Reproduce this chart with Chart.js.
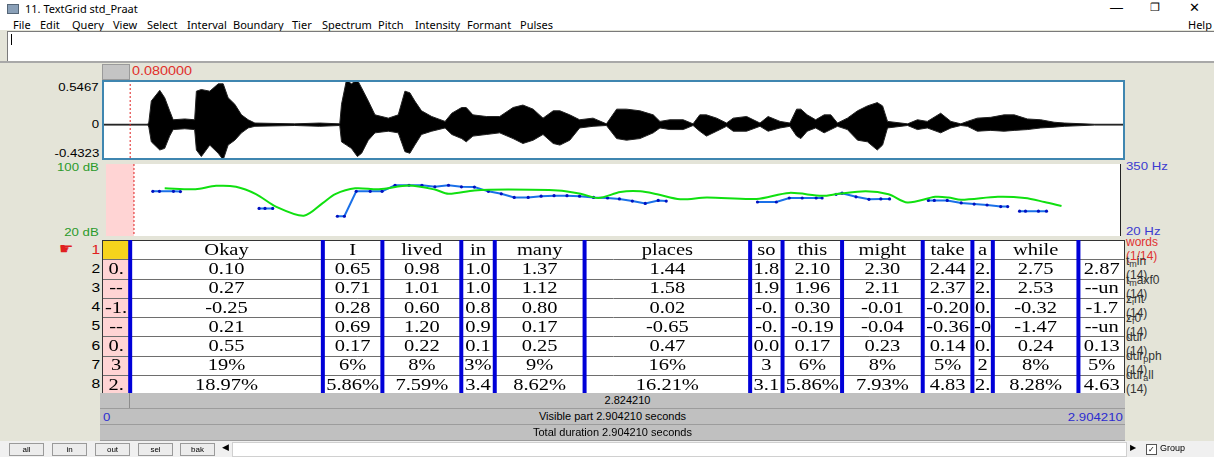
<!DOCTYPE html>
<html>
<head>
<meta charset="utf-8">
<script src="https://cdn.jsdelivr.net/npm/chart.js@4.4.0/dist/chart.umd.min.js"></script>
<style>
body{margin:0;width:1214px;height:457px;background:#e4e4d8;position:relative;overflow:hidden;font-family:"Liberation Sans",Arial,sans-serif;color:#000;}
.a{position:absolute;white-space:nowrap;}
.l{position:absolute;white-space:nowrap;font-size:11px;line-height:12px;transform:scaleX(1.2);transform-origin:left center;}
.r{position:absolute;white-space:nowrap;font-size:11px;line-height:12px;transform:scaleX(1.2);transform-origin:right center;text-align:right;}
.c{position:absolute;white-space:nowrap;font-size:11px;line-height:15px;text-align:center;}
.menu span{position:absolute;top:18px;font-size:11px;line-height:13px;font-family:"Noto Sans",sans-serif;}
.btn{position:absolute;top:443px;width:33px;height:11px;border:1px solid #9a9a9a;background:#ececec;font-size:8px;line-height:11px;text-align:center;}
.tn{position:absolute;left:1126px;font-size:12px;line-height:12px;white-space:nowrap;color:#333;}
.tn sub{font-size:9px;vertical-align:-2px;}
canvas{position:absolute;}
</style>
</head>
<body>
<!-- window chrome -->
<div class="a" style="left:0;top:0;width:1214px;height:30px;background:#fff;"></div>
<div class="a" style="left:7px;top:4px;width:10px;height:8px;background:#8aa0b8;border:1px solid #567;"></div>
<div class="a" style="left:25px;top:2px;font-size:11px;line-height:13px;font-family:'Noto Sans',sans-serif;">11. TextGrid std_Praat</div>
<div class="a" style="left:1110px;top:0px;font-size:13px;">&#8212;</div>
<div class="a" style="left:1150px;top:1px;font-size:11px;">&#10064;</div>
<div class="a" style="left:1189px;top:0px;font-size:13px;">&#10005;</div>
<div class="menu">
<span style="left:13px">File</span><span style="left:40px">Edit</span><span style="left:72px">Query</span><span style="left:113px">View</span>
<span style="left:147px">Select</span><span style="left:187px">Interval</span><span style="left:233px">Boundary</span><span style="left:292px">Tier</span>
<span style="left:322px">Spectrum</span><span style="left:378px">Pitch</span><span style="left:415px">Intensity</span><span style="left:467px">Formant</span>
<span style="left:520px">Pulses</span><span style="left:1188px">Help</span>
</div>
<div class="a" style="left:7px;top:31px;width:1207px;height:29px;background:#fff;border-left:1px solid #7a7a7a;border-top:1px solid #7a7a7a;"></div>
<div class="a" style="left:11px;top:34px;width:1px;height:11px;background:#000;"></div>
<div class="a" style="left:0;top:61px;width:1214px;height:2px;background:#a8a8a8;"></div>
<div class="a" style="left:102px;top:64px;width:26px;height:14px;background:#c4c4c4;border:1px solid #9a9a9a;"></div>
<div class="l" style="left:132px;top:65px;color:#e0302a;font-size:12px;line-height:13px;">0.080000</div>

<!-- axis labels -->
<div class="r" style="right:1115px;top:81px;">0.5467</div>
<div class="r" style="right:1115px;top:118px;">0</div>
<div class="r" style="right:1115px;top:147px;">-0.4323</div>
<div class="r" style="right:1115px;top:161px;color:#2a9a2a;">100 dB</div>
<div class="r" style="right:1115px;top:226px;color:#2a9a2a;">20 dB</div>
<div class="l" style="left:1126px;top:160px;color:#3a3ad0;">350 Hz</div>
<div class="l" style="left:1126px;top:225px;color:#3a3ad0;">20 Hz</div>

<!-- tier numbers -->
<div class="a" style="left:59px;top:240px;font-size:16px;line-height:18px;color:#e02020;font-family:'DejaVu Sans',sans-serif;">&#9755;</div>
<div class="r" style="right:1114px;top:243px;font-size:13px;line-height:14px;color:#e02020;">1</div>
<div class="r" style="right:1114px;top:262px;font-size:13px;line-height:14px;">2</div>
<div class="r" style="right:1114px;top:281px;font-size:13px;line-height:14px;">3</div>
<div class="r" style="right:1114px;top:300px;font-size:13px;line-height:14px;">4</div>
<div class="r" style="right:1114px;top:319px;font-size:13px;line-height:14px;">5</div>
<div class="r" style="right:1114px;top:339px;font-size:13px;line-height:14px;">6</div>
<div class="r" style="right:1114px;top:358px;font-size:13px;line-height:14px;">7</div>
<div class="r" style="right:1114px;top:377px;font-size:13px;line-height:14px;">8</div>

<!-- tier names -->
<div class="tn" style="top:236px;color:#e03030;">words</div>
<div class="tn" style="top:250px;color:#e03030;">(1/14)</div>
<div class="tn" style="top:255px;">t<sub>m</sub>in</div>
<div class="tn" style="top:269px;">(14)</div>
<div class="tn" style="top:274px;">t<sub>m</sub>axf0</div>
<div class="tn" style="top:288px;">(14)</div>
<div class="tn" style="top:293px;">z<sub>i</sub>nt</div>
<div class="tn" style="top:307px;">(14)</div>
<div class="tn" style="top:312px;">z<sub>f</sub>0</div>
<div class="tn" style="top:326px;">(14)</div>
<div class="tn" style="top:331px;">dur</div>
<div class="tn" style="top:345px;">(14)</div>
<div class="tn" style="top:350px;">dur<sub>p</sub>ph</div>
<div class="tn" style="top:364px;">(14)</div>
<div class="tn" style="top:369px;">dur<sub>a</sub>ll</div>
<div class="tn" style="top:383px;">(14)</div>

<canvas id="wave" width="1023" height="80" style="left:102px;top:80px;"></canvas>
<canvas id="pitch" width="1023" height="80" style="left:102px;top:160px;"></canvas>
<canvas id="grid" width="1023" height="154" style="left:102px;top:240px;"></canvas>

<!-- bottom bars -->
<div class="a" style="left:100px;top:393px;width:1025px;height:15px;background:#c0c0c0;border-bottom:1px solid #9c9c9c;"></div>
<div class="a" style="left:129px;top:393px;width:1px;height:15px;background:#8c8c8c;"></div>
<div class="c" style="left:130px;top:393px;width:995px;">2.824210</div>
<div class="a" style="left:100px;top:409px;width:1025px;height:15px;background:#c0c0c0;border-bottom:1px solid #9c9c9c;"></div>
<div class="c" style="left:100px;top:409px;width:1025px;">Visible part 2.904210 seconds</div>
<div class="l" style="left:103px;top:411px;color:#2c2cd0;">0</div>
<div class="r" style="right:91px;top:411px;color:#2c2cd0;">2.904210</div>
<div class="a" style="left:100px;top:425px;width:1025px;height:15px;background:#c0c0c0;border-bottom:1px solid #9c9c9c;"></div>
<div class="c" style="left:100px;top:425px;width:1025px;">Total duration 2.904210 seconds</div>

<!-- bottom toolbar -->
<div class="a" style="left:0;top:441px;width:1214px;height:16px;background:#f0f0f0;"></div>
<div class="btn" style="left:9px">all</div>
<div class="btn" style="left:52px">in</div>
<div class="btn" style="left:95px">out</div>
<div class="btn" style="left:138px">sel</div>
<div class="btn" style="left:180px">bak</div>
<div class="a" style="left:222px;top:442px;font-size:9px;">&#9664;</div>
<div class="a" style="left:232px;top:442px;width:893px;height:13px;background:#fff;border:1px solid #d0d0d0;"></div>
<div class="a" style="left:1130px;top:443px;font-size:8px;">&#9654;</div>
<div class="a" style="left:1146px;top:444px;width:9px;height:9px;border:1px solid #555;background:#fff;font-size:8px;line-height:9px;text-align:center;">&#10003;</div>
<div class="a" style="left:1160px;top:443px;font-size:9px;line-height:11px;">Group</div>

<script>
// time axis
const totalDur = 2.90421;
const cursorTime = 0.08;

// waveform envelope (seconds, upper and lower amplitude)
const waveTimes = [0.000, 0.130, 0.133, 0.140, 0.164, 0.178, 0.192, 0.202, 0.235, 0.263,
  0.268, 0.282, 0.306, 0.330, 0.344, 0.358, 0.377, 0.396, 0.415, 0.434,
  0.547, 0.618, 0.675, 0.680, 0.694, 0.708, 0.725, 0.737, 0.756, 0.775,
  0.813, 0.841, 0.860, 0.874, 0.888, 0.907, 0.936, 0.974, 0.993, 1.021,
  1.034, 1.053, 1.091, 1.129, 1.167, 1.195, 1.224, 1.252, 1.281, 1.300,
  1.328, 1.356, 1.394, 1.432, 1.461, 1.489, 1.527, 1.565, 1.584, 1.612,
  1.650, 1.678, 1.697, 1.716, 1.745, 1.773, 1.792, 1.830, 1.868, 1.891,
  1.925, 1.953, 1.972, 1.984, 2.002, 2.026, 2.050, 2.069, 2.088, 2.116,
  2.145, 2.173, 2.201, 2.216, 2.230, 2.287, 2.315, 2.343, 2.381, 2.410,
  2.438, 2.457, 2.485, 2.523, 2.561, 2.590, 2.627, 2.665, 2.703, 2.732,
  2.817, 2.904];
const waveTop = [0.005, 0.005, 0.03, 0.29, 0.42, 0.33, 0.17, 0.06, 0.07, 0.06,
  0.41, 0.43, 0.41, 0.50, 0.50, 0.33, 0.25, 0.12, 0.06, 0.02,
  0.01, 0.02, 0.01, 0.25, 0.546, 0.50, 0.546, 0.45, 0.29, 0.12,
  0.08, 0.12, 0.41, 0.39, 0.29, 0.17, 0.10, 0.04, 0.14, 0.21,
  0.21, 0.12, 0.10, 0.10, 0.21, 0.24, 0.19, 0.08, 0.17, 0.17,
  0.12, 0.06, 0.08, 0.01, 0.19, 0.19, 0.17, 0.12, 0.04, 0.06,
  0.06, 0.01, 0.12, 0.12, 0.08, 0.02, 0.08, 0.10, 0.02, 0.10,
  0.04, 0.02, 0.19, 0.19, 0.12, 0.06, 0.12, 0.12, 0.02, 0.08,
  0.17, 0.23, 0.27, 0.23, 0.04, 0.01, 0.06, 0.04, 0.14, 0.04,
  0.01, 0.04, 0.08, 0.09, 0.12, 0.12, 0.07, 0.06, 0.03, 0.02,
  0.005, 0.005];
const waveBottom = [-0.005, -0.005, -0.03, -0.21, -0.31, -0.29, -0.14, -0.06, -0.05, -0.06,
  -0.31, -0.39, -0.25, -0.35, -0.43, -0.25, -0.19, -0.10, -0.04, -0.02,
  -0.01, -0.02, -0.01, -0.21, -0.25, -0.29, -0.39, -0.35, -0.19, -0.10,
  -0.08, -0.10, -0.33, -0.35, -0.25, -0.12, -0.08, -0.04, -0.12, -0.17,
  -0.21, -0.14, -0.12, -0.10, -0.17, -0.23, -0.19, -0.12, -0.23, -0.25,
  -0.19, -0.04, -0.02, -0.01, -0.17, -0.19, -0.17, -0.10, -0.04, -0.06,
  -0.06, -0.01, -0.08, -0.14, -0.08, -0.02, -0.08, -0.08, -0.02, -0.08,
  -0.04, -0.02, -0.14, -0.17, -0.08, -0.04, -0.10, -0.06, -0.02, -0.06,
  -0.19, -0.21, -0.31, -0.25, -0.04, -0.01, -0.06, -0.04, -0.10, -0.04,
  -0.01, -0.02, -0.08, -0.07, -0.08, -0.07, -0.06, -0.04, -0.03, -0.02,
  -0.005, -0.005];

// intensity contour (dB)
const intTimes = [0.168, 0.256, 0.315, 0.372, 0.429, 0.486, 0.566, 0.620, 0.656, 0.713,
  0.781, 0.867, 0.941, 0.980, 1.054, 1.151, 1.293, 1.358, 1.409, 1.472,
  1.529, 1.577, 1.643, 1.719, 1.861, 1.955, 2.049, 2.097, 2.174, 2.239,
  2.293, 2.373, 2.410, 2.447, 2.552, 2.629, 2.685, 2.734];
const intDb = [73.0, 71.9, 75.7, 74.7, 66.6, 52.7, 42.6, 56.5, 66.6, 73.0,
  71.9, 76.0, 71.6, 66.9, 70.6, 71.6, 70.6, 66.9, 62.2, 68.9,
  69.6, 66.3, 60.8, 62.8, 61.2, 67.9, 64.6, 66.9, 69.6, 66.3,
  57.2, 63.5, 62.8, 60.2, 63.5, 62.2, 57.8, 53.4];

// pitch contour (Hz), null = unvoiced gap
const pitchTimes = [0.134, 0.153, 0.193, 0.213, 0.30,
  0.438, 0.455, 0.477, 0.55,
  0.662, 0.682, 0.716, 0.756, 0.790, 0.827, 0.867, 0.904, 0.941, 0.980,
  1.017, 1.054, 1.094, 1.131, 1.168, 1.208, 1.245, 1.282, 1.319, 1.355,
  1.395, 1.435, 1.469, 1.506, 1.543, 1.580, 1.603, 1.70,
  1.864, 1.918, 1.955, 1.992, 2.032, 2.049, 2.07,
  2.089, 2.106, 2.146, 2.183, 2.217, 2.242, 2.30,
  2.353, 2.370, 2.407, 2.447, 2.484, 2.521, 2.560, 2.580, 2.60,
  2.614, 2.631, 2.668, 2.691];
const pitchHz = [224.7, 224.7, 224.7, 223.4, null,
  146.6, 146.6, 146.6, null,
  110.6, 110.6, 224.7, 224.7, 224.7, 252.7, 252.7, 252.7, 245.6, 252.7,
  245.6, 244.3, 224.7, 213.4, 196.7, 196.7, 202.5, 205.0, 205.0, 202.5,
  196.7, 194.2, 190.0, 180.0, 169.1, 182.9, 180.0, null,
  175.8, 175.8, 194.2, 194.2, 194.2, 194.2, null,
  210.9, 216.3, 199.6, 188.3, 190.0, 190.0, null,
  182.9, 182.9, 182.9, 171.6, 166.2, 162.0, 154.9, 154.9, null,
  134.0, 134.0, 134.0, 134.0];

// TextGrid: interval boundaries (s) and the text shown in each cell
const tierBounds = [0, 0.08, 0.627, 0.796, 1.020, 1.115, 1.370, 1.840, 1.932, 2.101, 2.330, 2.471, 2.529, 2.772, 2.90421];
const tierNums = ['1', '2', '3', '4', '5', '6', '7', '8'];
const words  = ['', 'Okay', 'I', 'lived', 'in', 'many', 'places', 'so', 'this', 'might', 'take', 'a', 'while', ''];
const tmin   = ['0.', '0.10', '0.65', '0.98', '1.0', '1.37', '1.44', '1.8', '2.10', '2.30', '2.44', '2.', '2.75', '2.87'];
const tmaxf0 = ['--', '0.27', '0.71', '1.01', '1.0', '1.12', '1.58', '1.9', '1.96', '2.11', '2.37', '2.', '2.53', '--un'];
const zInt   = ['-1.', '-0.25', '0.28', '0.60', '0.8', '0.80', '0.02', '-0.', '0.30', '-0.01', '-0.20', '0.', '-0.32', '-1.7'];
const zF0    = ['--', '0.21', '0.69', '1.20', '0.9', '0.17', '-0.65', '-0.', '-0.19', '-0.04', '-0.36', '-0', '-1.47', '--un'];
const dur    = ['0.', '0.55', '0.17', '0.22', '0.1', '0.25', '0.47', '0.0', '0.17', '0.23', '0.14', '0.', '0.24', '0.13'];
const durPh  = ['3', '19%', '6%', '8%', '3%', '9%', '16%', '3', '6%', '8%', '5%', '2', '8%', '5%'];
const durAll = ['2.', '18.97%', '5.86%', '7.59%', '3.4', '8.62%', '16.21%', '3.1', '5.86%', '7.93%', '4.83', '2.', '8.28%', '4.63'];
const tierTexts = [words, tmin, tmaxf0, zInt, zF0, dur, durPh, durAll];

const baseOpts = {
  responsive: false, animation: false, devicePixelRatio: 1, events: [],
  layout: { padding: 0 },
  plugins: { legend: { display: false }, tooltip: { enabled: false } }
};

function cursorLine(chart) {
  const ctx = chart.ctx, x = chart.scales.x.getPixelForValue(cursorTime);
  ctx.save();
  ctx.strokeStyle = '#e02020'; ctx.lineWidth = 1; ctx.setLineDash([2, 2]);
  ctx.beginPath(); ctx.moveTo(x, chart.chartArea.top); ctx.lineTo(x, chart.chartArea.bottom); ctx.stroke();
  ctx.restore();
}

new Chart(document.getElementById('wave'), {
  type: 'line',
  data: {
    datasets: [
      { data: waveTimes.map((t, i) => ({ x: t, y: waveTop[i] })), borderColor: '#222', borderWidth: 1, pointRadius: 0, tension: 0, fill: false },
      { data: waveTimes.map((t, i) => ({ x: t, y: waveBottom[i] })), borderColor: '#222', borderWidth: 1, pointRadius: 0, tension: 0, fill: '-1', backgroundColor: '#000' }
    ]
  },
  options: {
    ...baseOpts,
    scales: {
      x: { type: 'linear', min: 0, max: totalDur, display: false },
      y: { min: -0.4323, max: 0.5467, display: false }
    }
  },
  plugins: [{
    id: 'waveFrame',
    beforeDraw(chart) {
      const { ctx, chartArea: a } = chart;
      ctx.fillStyle = '#fff'; ctx.fillRect(a.left, a.top, a.width, a.height);
    },
    afterDraw(chart) {
      const { ctx, chartArea: a } = chart;
      cursorLine(chart);
      ctx.save();
      ctx.strokeStyle = '#3f86b0'; ctx.lineWidth = 2;
      ctx.strokeRect(a.left + 1, a.top + 1, a.width - 2, a.height - 2);
      ctx.restore();
    }
  }]
});

new Chart(document.getElementById('pitch'), {
  type: 'line',
  data: {
    datasets: [
      { data: intTimes.map((t, i) => ({ x: t, y: intDb[i] })), yAxisID: 'db', borderColor: '#10e010', borderWidth: 2, pointRadius: 0, tension: 0.3 },
      { data: pitchTimes.map((t, i) => ({ x: t, y: pitchHz[i] })), yAxisID: 'hz', borderColor: '#1a70e8', borderWidth: 2,
        pointRadius: 1.6, pointBackgroundColor: '#0010c0', pointBorderWidth: 0, spanGaps: false, tension: 0 }
    ]
  },
  options: {
    ...baseOpts,
    scales: {
      x: { type: 'linear', min: 0, max: totalDur, display: false },
      db: { position: 'left', min: 20, max: 100, display: false },
      hz: { position: 'right', min: 20, max: 350, display: false }
    }
  },
  plugins: [{
    id: 'pitchFrame',
    beforeDraw(chart) {
      const { ctx, chartArea: a, scales: { x } } = chart;
      ctx.fillStyle = '#fff'; ctx.fillRect(a.left, a.top, a.width, a.height);
      ctx.fillStyle = '#ffd4d4';
      ctx.fillRect(x.getPixelForValue(0), a.top, x.getPixelForValue(cursorTime) - x.getPixelForValue(0), a.height);
    },
    afterDraw(chart) {
      const { ctx, chartArea: a } = chart;
      cursorLine(chart);
      ctx.save(); ctx.strokeStyle = '#222'; ctx.lineWidth = 1;
      ctx.beginPath(); ctx.moveTo(a.right - 0.5, a.top); ctx.lineTo(a.right - 0.5, a.bottom); ctx.stroke();
      ctx.restore();
    }
  }]
});

// TextGrid cells as floating bars, one dataset per interval
const gridSets = tierBounds.slice(0, -1).map((b, i) => ({
  data: tierNums.map(() => [b, tierBounds[i + 1]]),
  backgroundColor: tierNums.map((n, r) => i === 0 ? (r === 0 ? '#f6d41c' : '#ffd4d4') : '#fff'),
  borderWidth: 0, barPercentage: 1, categoryPercentage: 1
}));

new Chart(document.getElementById('grid'), {
  type: 'bar',
  data: { labels: tierNums, datasets: gridSets },
  options: {
    ...baseOpts,
    indexAxis: 'y',
    datasets: { bar: { grouped: false } },
    scales: {
      x: { type: 'linear', min: 0, max: totalDur, display: false },
      y: { type: 'category', display: false }
    }
  },
  plugins: [{
    id: 'gridText',
    afterDatasetsDraw(chart) {
      const { ctx, chartArea: a, scales: { x, y } } = chart;
      const rowEdge = r => r <= 0 ? a.top : r >= tierNums.length ? a.bottom
        : (y.getPixelForValue(r - 1) + y.getPixelForValue(r)) / 2;
      ctx.save();
      // row separators
      ctx.strokeStyle = '#6e6e6e'; ctx.lineWidth = 1;
      for (let r = 1; r < tierNums.length; r++) {
        const yy = Math.round(rowEdge(r)) + 0.5;
        ctx.beginPath(); ctx.moveTo(a.left, yy); ctx.lineTo(a.right, yy); ctx.stroke();
      }
      ctx.strokeStyle = '#333';
      ctx.strokeRect(a.left + 0.5, a.top + 0.5, a.width - 1, a.height - 1);
      // cell texts
      ctx.fillStyle = '#000';
      ctx.font = '16px "Liberation Serif", serif';
      ctx.textAlign = 'center'; ctx.textBaseline = 'middle';
      tierTexts.forEach((texts, r) => {
        const y0 = rowEdge(r), y1 = rowEdge(r + 1);
        texts.forEach((t, i) => {
          if (!t) return;
          const x0 = x.getPixelForValue(tierBounds[i]) + 2, x1 = x.getPixelForValue(tierBounds[i + 1]) - 2;
          ctx.save();
          ctx.beginPath(); ctx.rect(x0, y0, x1 - x0, y1 - y0); ctx.clip();
          ctx.translate((x0 + x1) / 2, (y0 + y1) / 2 + 1);
          ctx.scale(1.28, 1);
          ctx.fillText(t, 0, 0);
          ctx.restore();
        });
      });
      // interval boundaries
      ctx.strokeStyle = '#0000d8'; ctx.lineWidth = 4;
      tierBounds.slice(1, -1).forEach(b => {
        const xx = x.getPixelForValue(b);
        ctx.beginPath(); ctx.moveTo(xx, a.top); ctx.lineTo(xx, a.bottom); ctx.stroke();
      });
      ctx.restore();
    }
  }]
});
</script>
</body>
</html>
